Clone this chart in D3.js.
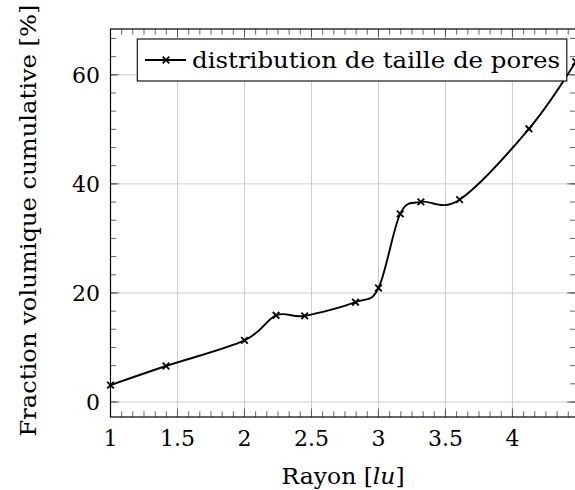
<!DOCTYPE html>
<html>
<head>
<meta charset="utf-8">
<script src="https://cdn.jsdelivr.net/npm/d3@7"></script>
<style>
  body { margin: 0; background: #fff; }
</style>
</head>
<body>
<svg id="chart" width="575" height="490"></svg>
<script>
// rayons (racines d'entiers) et fraction cumulative
var rayons = [1, Math.SQRT2, 2, Math.sqrt(5), Math.sqrt(6), Math.sqrt(8), 3,
              Math.sqrt(10), Math.sqrt(11), Math.sqrt(13), Math.sqrt(17), Math.sqrt(20)];
var fractions = [3.1, 6.6, 11.3, 15.9, 15.8, 18.3, 20.9, 34.5, 36.7, 37.1, 50.1, 62.4];
var xTicks = [1, 1.5, 2, 2.5, 3, 3.5, 4];
var yTicks = [0, 20, 40, 60];
var legendLabel = "distribution de taille de pores";

var serif = "'DejaVu Serif', serif";
var svg = d3.select("#chart").attr("font-family", serif);
var pLeft = 110.5, pRight = 575.7, pTop = 29, pBottom = 417;

var x = d3.scaleLinear().domain([1, Math.sqrt(20)]).range([pLeft, pRight]);
var y = d3.scaleLinear().domain([-2.75, 68.4]).range([pBottom, pTop]);

var data = rayons.map(function(r, i) { return {r: r, v: fractions[i]}; });

// minor ticks : 5 between majors
var xMinor = d3.range(1, 4.5, 0.5 / 6).filter(function(d) { return d < Math.sqrt(20); });
var yMinor = d3.range(-20, 80, 20 / 6).filter(function(d) { return d > -2.75 && d < 68.4; });

// grid
var grid = svg.append("g").attr("stroke", "#cccccc").attr("stroke-width", 1);
grid.selectAll(".gx").data(xTicks).enter().append("line")
    .attr("x1", function(d) { return x(d); }).attr("x2", function(d) { return x(d); })
    .attr("y1", pTop).attr("y2", pBottom);
grid.selectAll(".gy").data(yTicks).enter().append("line")
    .attr("y1", function(d) { return y(d); }).attr("y2", function(d) { return y(d); })
    .attr("x1", pLeft).attr("x2", pRight);

// ticks on all four sides, pointing inwards
var ticks = svg.append("g").attr("stroke", "#555").attr("stroke-width", 0.9);
function tickSet(vals, len) {
    vals.forEach(function(d) {
        ticks.append("line").attr("x1", x(d)).attr("x2", x(d)).attr("y1", pBottom).attr("y2", pBottom - len);
        ticks.append("line").attr("x1", x(d)).attr("x2", x(d)).attr("y1", pTop).attr("y2", pTop + len);
    });
}
function tickSetY(vals, len) {
    vals.forEach(function(d) {
        ticks.append("line").attr("y1", y(d)).attr("y2", y(d)).attr("x1", pLeft).attr("x2", pLeft + len);
        ticks.append("line").attr("y1", y(d)).attr("y2", y(d)).attr("x1", pRight).attr("x2", pRight - len);
    });
}
tickSet(xMinor, 5.7);
tickSet(xTicks, 8.5);
tickSetY(yMinor, 5.7);
tickSetY(yTicks, 8.5);

// frame
svg.append("rect")
    .attr("x", pLeft).attr("y", pTop)
    .attr("width", pRight - pLeft).attr("height", pBottom - pTop)
    .attr("fill", "none").attr("stroke", "#000").attr("stroke-width", 1.2);

// curve
svg.append("clipPath").attr("id", "plot-clip")
    .append("rect").attr("x", pLeft).attr("y", pTop).attr("width", pRight - pLeft).attr("height", pBottom - pTop);

var line = d3.line()
    .x(function(d) { return x(d.r); })
    .y(function(d) { return y(d.v); })
    .curve(d3.curveCardinal.tension(0));

svg.append("path")
    .datum(data)
    .attr("clip-path", "url(#plot-clip)")
    .attr("d", line)
    .attr("fill", "none")
    .attr("stroke", "#000")
    .attr("stroke-width", 1.9);

function cross(g, cx, cy) {
    var s = 3.3;
    g.append("path")
        .attr("d", "M" + (cx - s) + "," + (cy - s) + "L" + (cx + s) + "," + (cy + s) +
                   "M" + (cx - s) + "," + (cy + s) + "L" + (cx + s) + "," + (cy - s))
        .attr("stroke", "#000").attr("stroke-width", 1.8).attr("fill", "none");
}
var marks = svg.append("g");
data.forEach(function(d) { cross(marks, x(d.r), y(d.v)); });

// tick labels
svg.selectAll(".xl").data(xTicks).enter().append("text")
    .attr("x", function(d) { return x(d); })
    .attr("y", 445.5)
    .attr("text-anchor", "middle")
    .attr("font-size", 22)
    .text(function(d) { return d; });
svg.selectAll(".yl").data(yTicks).enter().append("text")
    .attr("x", 100)
    .attr("y", function(d) { return y(d) + 8; })
    .attr("text-anchor", "end")
    .attr("font-size", 22)
    .text(function(d) { return d; });

// axis titles
var xt = svg.append("text")
    .attr("x", (pLeft + pRight) / 2).attr("y", 484)
    .attr("text-anchor", "middle").attr("font-size", 23)
    .attr("textLength", 123)
    .attr("lengthAdjust", "spacingAndGlyphs");
xt.append("tspan").text("Rayon [");
xt.append("tspan").attr("font-style", "italic").text("lu");
xt.append("tspan").text("]");

svg.append("text")
    .attr("transform", "translate(35.5,220.5) rotate(-90)")
    .attr("text-anchor", "middle")
    .attr("font-size", 23)
    .attr("textLength", 432)
    .attr("lengthAdjust", "spacingAndGlyphs")
    .text("Fraction volumique cumulative [%]");

// legend
var lg = svg.append("g");
lg.append("rect")
    .attr("x", 137.3).attr("y", 39)
    .attr("width", 429.5).attr("height", 42)
    .attr("fill", "#fff").attr("stroke", "#000").attr("stroke-width", 1.1);
lg.append("line")
    .attr("x1", 145).attr("x2", 186).attr("y1", 60).attr("y2", 60)
    .attr("stroke", "#000").attr("stroke-width", 1.8);
cross(lg, 166, 60);
lg.append("text")
    .attr("x", 192).attr("y", 68)
    .attr("font-size", 23)
    .attr("textLength", 368)
    .attr("lengthAdjust", "spacingAndGlyphs")
    .text(legendLabel);
</script>
</body>
</html>
